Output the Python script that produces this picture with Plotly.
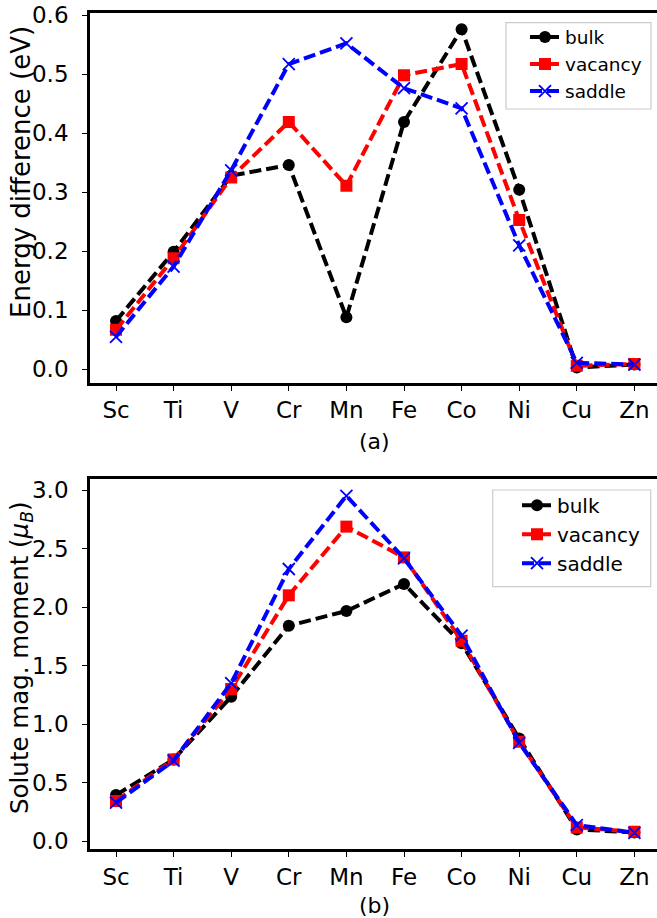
import plotly.graph_objects as go

elements = ["Sc", "Ti", "V", "Cr", "Mn", "Fe", "Co", "Ni", "Cu", "Zn"]

# (a) energy difference (eV)
energy_bulk = [0.082, 0.199, 0.328, 0.346, 0.088, 0.419, 0.576, 0.304, 0.003, 0.008]
energy_vacancy = [0.067, 0.188, 0.325, 0.419, 0.311, 0.498, 0.517, 0.253, 0.006, 0.009]
energy_saddle = [0.055, 0.174, 0.337, 0.517, 0.552, 0.476, 0.442, 0.210, 0.011, 0.008]

# (b) solute magnetic moment (mu_B)
mag_bulk = [0.393, 0.698, 1.234, 1.84, 1.966, 2.197, 1.69, 0.877, 0.10, 0.074]
mag_vacancy = [0.342, 0.698, 1.30, 2.10, 2.687, 2.424, 1.712, 0.849, 0.117, 0.08]
mag_saddle = [0.328, 0.687, 1.35, 2.325, 2.95, 2.416, 1.755, 0.84, 0.137, 0.071]

series_names = ["bulk", "vacancy", "saddle"]

W, H = 657, 918

def px(xp):
    return xp / W

def py(yp):
    return 1 - yp / H

FONT = "DejaVu Sans"
DASH = "12px,5px"

styles = {
    "bulk": dict(color="black", symbol="circle", size=12, mline=0),
    "vacancy": dict(color="red", symbol="square", size=12, mline=0),
    "saddle": dict(color="blue", symbol="x-thin", size=12, mline=1.8),
}

fig = go.Figure()

def add_series(xa, ya, legend, data):
    for name, vals in zip(series_names, data):
        st = styles[name]
        fig.add_trace(go.Scatter(
            x=list(range(len(elements))), y=vals, name=name,
            xaxis=xa, yaxis=ya, legend=legend,
            mode="lines+markers",
            line=dict(color=st["color"], width=4, dash=DASH),
            marker=dict(symbol=st["symbol"], size=st["size"], color=st["color"],
                        line=dict(color=st["color"], width=st["mline"])),
        ))

add_series("x", "y", "legend", [energy_bulk, energy_vacancy, energy_saddle])
add_series("x2", "y2", "legend2", [mag_bulk, mag_vacancy, mag_saddle])

spacing = 57.6
x0 = 116
x_range = [-(x0 - 90) / spacing, (W - x0) / spacing]

def xaxis_cfg(anchor):
    return dict(
        domain=[px(90), 1], anchor=anchor, range=x_range,
        tickmode="array", tickvals=list(range(len(elements))), ticktext=elements,
        showline=True, linecolor="black", linewidth=2.7, mirror=True,
        ticks="outside", ticklen=5, tickwidth=1.2, tickcolor="black",
        showgrid=False, zeroline=False,
        tickfont=dict(family=FONT, size=23, color="black"),
        automargin=False,
    )

def yaxis_cfg(anchor, dom, rng, tickvals, ticktext):
    return dict(
        domain=dom, anchor=anchor, range=rng,
        tickmode="array", tickvals=tickvals, ticktext=ticktext,
        showline=True, linecolor="black", linewidth=2.7, mirror=False,
        ticks="outside", ticklen=5, tickwidth=1.2, tickcolor="black",
        showgrid=False, zeroline=False,
        tickfont=dict(family=FONT, size=23, color="black"),
        ticklabelstandoff=9,
        automargin=False,
    )

top_dom = [py(382.7), py(13.3)]
bot_dom = [py(849.3), py(479)]

e_ticks = [0.0, 0.1, 0.2, 0.3, 0.4, 0.5, 0.6]
m_ticks = [0.0, 0.5, 1.0, 1.5, 2.0, 2.5, 3.0]

legend_common = dict(
    bgcolor="rgba(0,0,0,0)", borderwidth=0,
    xanchor="left", yanchor="top", xref="paper", yref="paper",
    tracegroupgap=0, itemwidth=30,
)

def legend_frame(x0p, y0p, x1p, y1p):
    return dict(type="rect", xref="paper", yref="paper",
                x0=px(x0p), x1=px(x1p), y0=py(y1p), y1=py(y0p),
                line=dict(color="#cccccc", width=1.2),
                fillcolor="rgba(255,255,255,0.8)", layer="above")

fig.update_layout(
    width=W, height=H,
    margin=dict(l=0, r=0, t=0, b=0),
    paper_bgcolor="white", plot_bgcolor="white",
    font=dict(family=FONT, color="black"),
    xaxis=xaxis_cfg("y"),
    yaxis=yaxis_cfg("x", top_dom, [-0.0227, 0.6029], e_ticks, [f"{v:.1f}" for v in e_ticks]),
    xaxis2=xaxis_cfg("y2"),
    yaxis2=yaxis_cfg("x2", bot_dom, [-0.07, 3.094], m_ticks, [f"{v:.1f}" for v in m_ticks]),
    legend=dict(x=px(525), y=py(18.4), font=dict(family=FONT, size=18.5, color="black"), **legend_common),
    legend2=dict(x=px(517), y=py(485.7), font=dict(family=FONT, size=20, color="black"), **legend_common),
    showlegend=True,
    shapes=[legend_frame(506, 22.7, 651, 109), legend_frame(492.7, 490, 650.7, 586.7)],
    annotations=[
        dict(text="Energy difference (eV)", xref="paper", yref="paper",
             x=px(21), y=py(172), xanchor="center", yanchor="middle",
             textangle=-90, showarrow=False, font=dict(family=FONT, size=26, color="black")),
        dict(text="Solute mag. moment (<i>μ<sub>B</sub></i>)", xref="paper", yref="paper",
             x=px(21), y=py(658), xanchor="center", yanchor="middle",
             textangle=-90, showarrow=False, font=dict(family=FONT, size=24.5, color="black")),
        dict(text="(a)", xref="paper", yref="paper",
             x=px(374), y=py(442), xanchor="center", yanchor="middle",
             showarrow=False, font=dict(family=FONT, size=22, color="black")),
        dict(text="(b)", xref="paper", yref="paper",
             x=px(374), y=py(905), xanchor="center", yanchor="middle",
             showarrow=False, font=dict(family=FONT, size=22, color="black")),
    ],
)

fig.write_html(
    "out.html",
    config={"displayModeBar": False},
    post_script="document.body.style.margin='0';document.body.style.overflow='hidden';",
)
